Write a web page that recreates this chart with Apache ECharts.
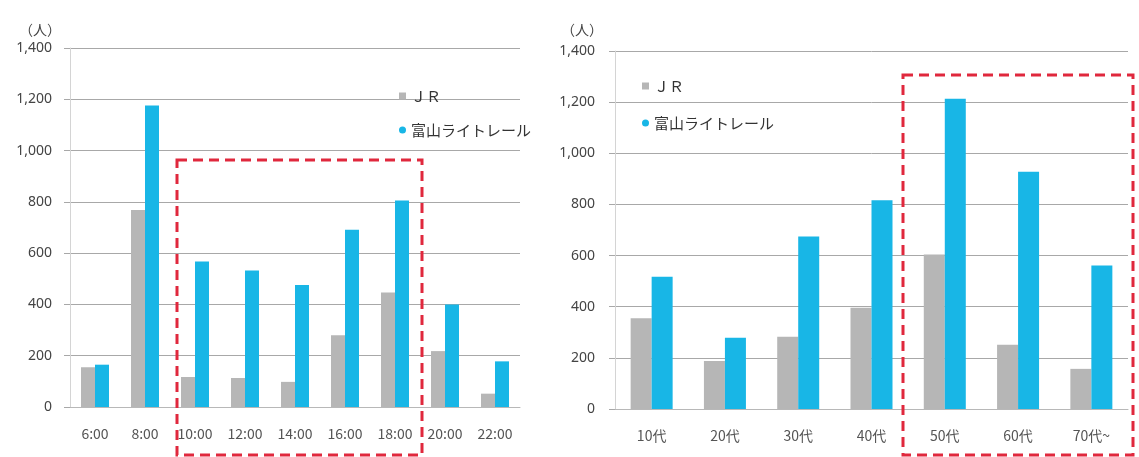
<!DOCTYPE html>
<html>
<head>
<meta charset="utf-8">
<script src="https://cdn.jsdelivr.net/npm/echarts@6/dist/echarts.min.js"></script>
<style>
  html, body { margin: 0; padding: 0; background: #fff; }
  #main { width: 1139px; height: 457px; }
</style>
</head>
<body>
<div id="main"></div>
<script>
// time of day chart (left)
var hours = ['6:00', '8:00', '10:00', '12:00', '14:00', '16:00', '18:00', '20:00', '22:00'];
var jrByHour = [155, 768, 117, 113, 98, 280, 447, 218, 52];
var lightRailByHour = [165, 1176, 567, 532, 476, 691, 805, 400, 178];

// age group chart (right)
var ages = ['10代', '20代', '30代', '40代', '50代', '60代', '70代~'];
var jrByAge = [355, 188, 283, 396, 604, 251, 157];
var lightRailByAge = [517, 279, 675, 816, 1213, 928, 561];

var yTicks = [0, 200, 400, 600, 800, 1000, 1200, 1400];
var names = ['ＪＲ', '富山ライトレール'];

var grayColor = '#b6b6b6';
var blueColor = '#18b6e6';
var numFont = '"Noto Sans", "Noto Sans CJK JP", sans-serif';
var jpFont = '"Noto Sans CJK JP", sans-serif';

var chartDom = document.getElementById('main');
var myChart = echarts.init(chartDom);

function fmt(v) {
    return v.toLocaleString('en-US');
}

function yAxisFor(gridIndex, margin) {
    return {
        type: 'value',
        gridIndex: gridIndex,
        min: yTicks[0],
        max: yTicks[yTicks.length - 1],
        interval: yTicks[1] - yTicks[0],
        axisLine: { show: true, lineStyle: { color: '#d4d4d4' } },
        axisTick: { show: true, length: 6, lineStyle: { color: '#a8a8a8' } },
        splitLine: { lineStyle: { color: '#a8a8a8', width: 1 } },
        axisLabel: {
            margin: margin,
            color: '#444',
            fontSize: 14,
            fontFamily: numFont,
            formatter: fmt
        }
    };
}

function xAxisFor(gridIndex, data) {
    return {
        type: 'category',
        gridIndex: gridIndex,
        data: data,
        axisLine: { lineStyle: { color: '#b8b8b8' } },
        axisTick: { length: 5, lineStyle: { color: '#b8b8b8' } },
        axisLabel: {
            margin: 20,
            color: '#555',
            fontSize: 14,
            fontFamily: jpFont
        }
    };
}

function legendFor(left, top, gap) {
    return {
        orient: 'vertical',
        left: left,
        top: top,
        itemGap: gap,
        itemWidth: 7,
        itemHeight: 7,
        data: [
            { name: names[0], icon: 'rect' },
            { name: names[1], icon: 'circle' }
        ],
        textStyle: { color: '#333', fontSize: 15, fontFamily: jpFont, lineHeight: 16 }
    };
}

var option = {
    animation: false,
    backgroundColor: '#fff',
    title: [
        { text: '（人）', left: 14, top: 18, textStyle: { fontSize: 14, fontWeight: 'normal', color: '#444', fontFamily: jpFont } },
        { text: '（人）', left: 556, top: 18, textStyle: { fontSize: 14, fontWeight: 'normal', color: '#444', fontFamily: jpFont } }
    ],
    legend: [
        legendFor(394, 83, 18),
        legendFor(637, 73, 21)
    ],
    grid: [
        { left: 70, top: 48, width: 450, height: 359 },
        { left: 615, top: 51, width: 513, height: 358 }
    ],
    xAxis: [xAxisFor(0, hours), xAxisFor(1, ages)],
    yAxis: [yAxisFor(0, 18), yAxisFor(1, 20)],
    series: [
        {
            name: names[0], type: 'bar', xAxisIndex: 0, yAxisIndex: 0,
            data: jrByHour, barWidth: 14, barGap: '0%',
            itemStyle: { color: grayColor }
        },
        {
            name: names[1], type: 'bar', xAxisIndex: 0, yAxisIndex: 0,
            data: lightRailByHour, barWidth: 14, barGap: '0%',
            itemStyle: { color: blueColor }
        },
        {
            name: names[0], type: 'bar', xAxisIndex: 1, yAxisIndex: 1,
            data: jrByAge, barWidth: 21, barGap: '0%',
            itemStyle: { color: grayColor }
        },
        {
            name: names[1], type: 'bar', xAxisIndex: 1, yAxisIndex: 1,
            data: lightRailByAge, barWidth: 21, barGap: '0%',
            itemStyle: { color: blueColor }
        }
    ],
    // red dashed highlight boxes
    graphic: [
        {
            type: 'rect', z: 100, silent: true,
            shape: { x: 177, y: 160, width: 245, height: 295 },
            style: { fill: 'none', stroke: '#e0283d', lineWidth: 3, lineDash: [10, 6] }
        },
        {
            type: 'rect', z: 100, silent: true,
            shape: { x: 903, y: 75, width: 230, height: 380 },
            style: { fill: 'none', stroke: '#e0283d', lineWidth: 3, lineDash: [10, 6] }
        }
    ]
};

option && myChart.setOption(option);
</script>
</body>
</html>
